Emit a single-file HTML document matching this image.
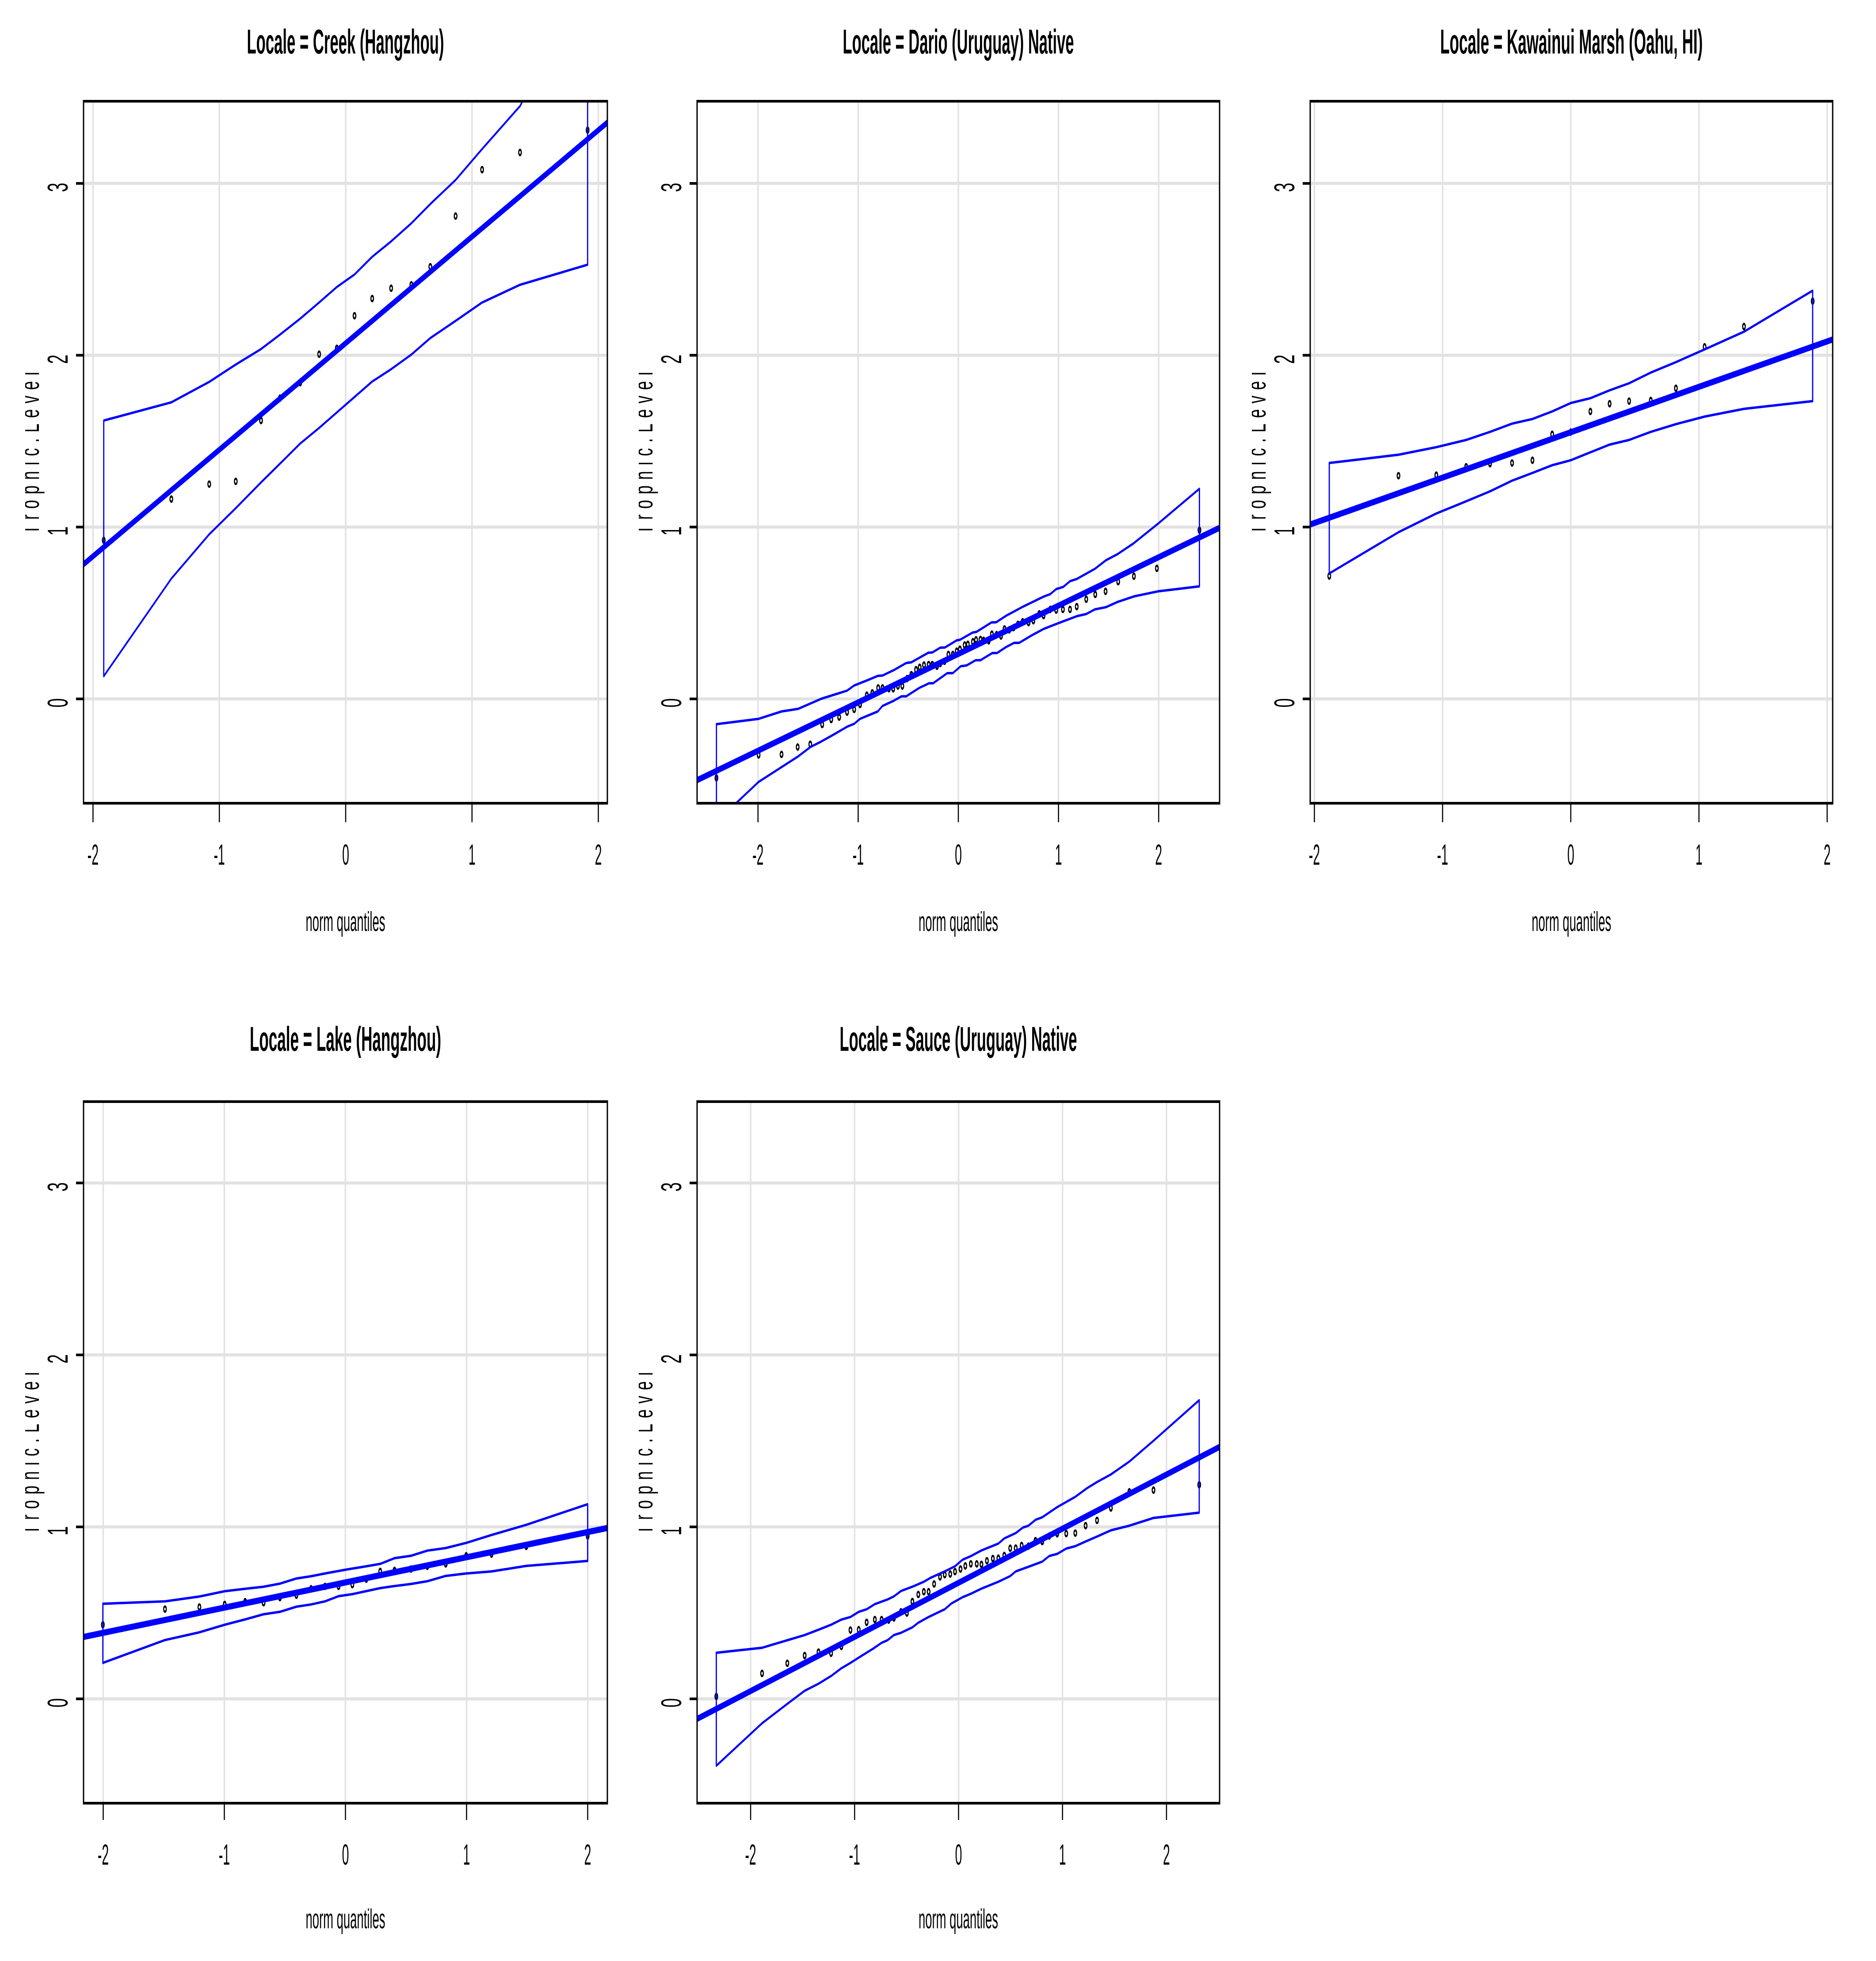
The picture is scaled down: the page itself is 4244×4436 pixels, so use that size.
<!DOCTYPE html>
<html lang="en">
<head>
<meta charset="utf-8">
<title>Trophic Level QQ plots by Locale</title>
<style>
html,body{margin:0;padding:0;background:#fff;}
svg{display:block;font-family:"Liberation Sans",sans-serif;}
</style>
</head>
<body>
<svg id="chart" xmlns="http://www.w3.org/2000/svg" width="4244" height="4436" viewBox="0 0 4244 4436"><rect width="4244" height="4436" fill="#fff"></rect></svg>
<script>
// ---------- Shared tick labels ----------
const xTickValues = [-2, -1, 0, 1, 2];
const yTickValues = [0, 1, 2, 3];
const yAxisTitle = "Trophic.Level";
const xAxisTitle = "norm quantiles";

// ---------- Creek (Hangzhou) ----------
const creekTitle = "Locale = Creek (Hangzhou)";
const creekQ = [-1.915,-1.38,-1.08,-.87,-.67,-.52,-.36,-.21,-.07,.07,.21,.36,.52,.67,.87,1.08,1.38,1.915];
const creekValues = [.923,1.163,1.25,1.266,1.62,1.75,1.84,2.006,2.04,2.23,2.33,2.39,2.41,2.515,2.81,3.08,3.18,3.31];
const creekUpper = [1.62,1.726,1.845,1.946,2.036,2.12,2.213,2.307,2.397,2.47,2.573,2.663,2.768,2.88,3.02,3.2,3.45,4.2];
const creekLower = [.132,.70,.958,1.11,1.26,1.369,1.486,1.577,1.667,1.757,1.847,1.919,2.004,2.10,2.2,2.307,2.41,2.527];
const creekFit = [2.07, .62];

// ---------- Dario (Uruguay) Native ----------
const darioTitle = "Locale = Dario (Uruguay) Native";
const darioQ = [-2.415,-1.994,-1.765,-1.604,-1.478,-1.359,-1.269,-1.19,-1.111,-1.04,-.981,-.914,-.859,-.8,-.757,-.693,-.65,-.603,-.559,-.512,-.469,-.422,-.386,-.343,-.296,-.26,-.213,-.181,-.138,-.099,-.055,-.016,.016,.063,.095,.146,.177,.221,.252,.303,.335,.382,.426,.461,.508,.552,.595,.642,.701,.749,.808,.851,.918,.977,1.044,1.115,1.182,1.277,1.367,1.47,1.596,1.753,1.982,2.407];
const darioValues = [-.46,-.326,-.323,-.28,-.264,-.149,-.12,-.106,-.077,-.061,-.032,.022,.035,.064,.064,.059,.059,.075,.075,.118,.141,.17,.184,.197,.2,.2,.19,.206,.219,.259,.259,.278,.289,.314,.318,.333,.344,.346,.341,.338,.377,.374,.366,.407,.402,.415,.434,.449,.444,.455,.495,.485,.521,.517,.521,.521,.537,.58,.608,.626,.682,.714,.76,.982];
const darioUpperQ = [-2.415,-1.994,-1.765,-1.6,-1.363,-1.111,-1.04,-.902,-.804,-.757,-.646,-.52,-.469,-.299,-.26,-.181,-.134,-.016,.016,.142,.181,.268,.331,.378,.477,.646,.851,.918,.977,1.048,1.115,1.182,1.363,1.474,1.588,1.749,1.994,2.407];
const darioUpper = [-.147,-.116,-.073,-.058,.002,.048,.078,.11,.134,.136,.167,.209,.213,.269,.27,.298,.299,.341,.344,.386,.39,.422,.445,.446,.484,.537,.595,.61,.639,.652,.685,.698,.757,.807,.842,.905,1.02,1.223];
const darioLowerQ = [-2.415,-1.994,-1.6,-1.474,-1.375,-1.237,-1.111,-1.04,-.981,-.804,-.757,-.646,-.567,-.52,-.39,-.292,-.252,-.11,-.055,.024,.083,.173,.221,.339,.386,.477,.556,.607,.733,.851,.977,1.186,1.277,1.363,1.474,1.588,1.757,1.994,2.407];
const darioLower = [-.715,-.483,-.335,-.279,-.25,-.205,-.162,-.145,-.116,-.073,-.041,-.011,.015,.015,.064,.091,.091,.15,.15,.19,.195,.225,.225,.267,.267,.302,.326,.326,.37,.407,.436,.482,.494,.521,.534,.564,.597,.626,.655];
const darioFit = [.2615, .2816];

// ---------- Kawainui Marsh (Oahu, HI) ----------
const kawainuiTitle = "Locale = Kawainui Marsh (Oahu, HI)";
const kawainuiQ = [-1.884,-1.344,-1.049,-.816,-.63,-.458,-.299,-.145,0,.153,.303,.455,.624,.82,1.044,1.351,1.887];
const kawainuiValues = [.715,1.299,1.302,1.351,1.369,1.373,1.389,1.54,1.553,1.673,1.718,1.733,1.737,1.808,2.049,2.167,2.315];
const kawainuiUpper = [1.373,1.421,1.465,1.507,1.554,1.602,1.629,1.673,1.722,1.75,1.796,1.837,1.899,1.96,2.034,2.137,2.376];
const kawainuiLower = [.73,.97,1.079,1.15,1.208,1.27,1.315,1.36,1.389,1.435,1.48,1.507,1.554,1.599,1.643,1.688,1.733];
const kawainuiFit = [1.552, .2642];

// ---------- Lake (Hangzhou) ----------
const lakeTitle = "Locale = Lake (Hangzhou)";
const lakeQ = [-2.003,-1.49,-1.206,-.997,-.828,-.676,-.541,-.405,-.284,-.169,-.057,.057,.172,.287,.405,.541,.676,.828,.997,1.206,1.493,2];
const lakeValues = [.431,.522,.534,.549,.565,.559,.589,.603,.64,.654,.654,.664,.696,.741,.747,.755,.771,.785,.832,.842,.887,.947];
const lakeUpperQ = [-2.003,-1.49,-1.206,-.997,-.828,-.676,-.541,-.405,-.284,-.169,0,.172,.287,.405,.541,.676,.828,.997,1.206,1.493,2];
const lakeUpper = [.553,.567,.595,.626,.64,.652,.67,.7,.713,.729,.751,.771,.785,.818,.832,.862,.877,.907,.953,1.012,1.132];
const lakeLowerQ = [-2.003,-1.49,-1.206,-.997,-.828,-.676,-.541,-.405,-.284,-.169,-.057,.057,.287,.405,.541,.676,.828,.997,1.206,1.493,2];
const lakeLower = [.209,.342,.387,.431,.462,.492,.506,.536,.549,.567,.597,.609,.644,.656,.668,.684,.715,.729,.741,.773,.802];
const lakeFit = [.677, .1465];

// ---------- Sauce (Uruguay) Native ----------
const sauceTitle = "Locale = Sauce (Uruguay) Native";
const sauceQ = [-2.33,-1.89,-1.647,-1.48,-1.347,-1.226,-1.127,-1.04,-.96,-.884,-.805,-.74,-.672,-.622,-.554,-.497,-.444,-.387,-.334,-.288,-.235,-.178,-.133,-.08,-.034,.019,.065,.118,.175,.22,.273,.33,.383,.44,.497,.55,.607,.672,.74,.805,.873,.949,1.036,1.123,1.222,1.332,1.465,1.643,1.875,2.315];
const sauceValues = [.014,.148,.207,.252,.272,.265,.305,.4,.402,.445,.461,.461,.458,.47,.506,.499,.566,.607,.623,.623,.668,.709,.722,.726,.74,.755,.773,.785,.785,.782,.803,.816,.818,.834,.876,.877,.892,.888,.92,.915,.947,.96,.961,.964,1.007,1.038,1.11,1.204,1.214,1.245];
const sauceUpperQ = [-2.33,-1.89,-1.647,-1.48,-1.347,-1.226,-1.127,-1.04,-.96,-.884,-.805,-.683,-.622,-.554,-.436,-.334,-.266,-.133,-.034,.038,.118,.22,.383,.44,.55,.619,.672,.74,.805,.949,1.123,1.233,1.332,1.465,1.643,1.875,2.315];
const sauceUpper = [.268,.297,.341,.371,.402,.431,.461,.476,.506,.521,.551,.578,.596,.627,.654,.681,.705,.741,.771,.809,.83,.863,.903,.933,.964,.996,1.007,1.041,1.056,1.115,1.175,1.224,1.261,1.305,1.38,1.501,1.737];
const sauceLowerQ = [-2.33,-1.89,-1.647,-1.48,-1.347,-1.226,-1.127,-1.04,-.96,-.816,-.74,-.683,-.622,-.554,-.444,-.387,-.288,-.133,-.068,.038,.118,.22,.383,.497,.55,.672,.805,.873,.949,1.036,1.123,1.222,1.332,1.465,1.643,1.875,2.315];
const sauceLower = [-.389,-.142,-.029,.047,.088,.133,.178,.209,.24,.294,.326,.341,.371,.384,.416,.443,.476,.521,.555,.591,.611,.641,.681,.714,.741,.768,.798,.831,.843,.874,.888,.915,.944,.98,1.007,1.052,1.083];
const sauceFit = [.675, .3148];

// ---------- Rendering ----------
const NS = "http://www.w3.org/2000/svg";
const root = document.getElementById("chart");
const SX = 0.5; // the plotted marks are squeezed horizontally, like the reference

function mk(tag, parent, attrs) {
  const el = document.createElementNS(NS, tag);
  for (const k in attrs) el.setAttribute(k, attrs[k]);
  parent.appendChild(el);
  return el;
}

function drawPanel(p) {
  const xPos = q => (p.xZero + p.xUnit * q) / SX;
  const yPos = v => p.yZero - p.yUnit * v;
  const L = p.left / SX, R = p.right / SX, T = p.top, B = p.bottom;
  const cx = (p.left + p.right) / 2;

  const panel = mk("g", root, {});
  
  

  const clip = mk("clipPath", panel, { id: "clip-" + p.id });
  mk("rect", clip, { x: L, y: T, width: R - L, height: B - T });

  const squeezed = mk("g", panel, { transform: "scale(" + SX + ",1)" });
  const plot = mk("g", squeezed, { "clip-path": "url(#clip-" + p.id + ")" });
  
  

  xTickValues.forEach(t => {
    const g = mk("line", plot, { x1: xPos(t), x2: xPos(t), y1: T, y2: B, stroke: "#e2e2e2", "stroke-width": 7 });
    
    
  });
  yTickValues.forEach(t => {
    const g = mk("line", plot, { x1: L, x2: R, y1: yPos(t), y2: yPos(t), stroke: "#e2e2e2", "stroke-width": 7 });
    
    
  });

  p.q.forEach((q, i) => {
    const c = mk("circle", plot, { cx: xPos(q), cy: yPos(p.values[i]), r: 6, fill: "none", stroke: "#000", "stroke-width": 5 });
    
    
  });

  const ql = (p.left - p.xZero) / p.xUnit, qr = (p.right - p.xZero) / p.xUnit;
  const fit = mk("line", plot, {
    x1: xPos(ql), y1: yPos(p.fit[0] + p.fit[1] * ql),
    x2: xPos(qr), y2: yPos(p.fit[0] + p.fit[1] * qr),
    stroke: "#0000ff", "stroke-width": 14
  });
  
  

  const pts = [];
  p.upperQ.forEach((q, i) => pts.push(xPos(q) + "," + yPos(p.upper[i])));
  for (let i = p.lowerQ.length - 1; i >= 0; i--) pts.push(xPos(p.lowerQ[i]) + "," + yPos(p.lower[i]));
  const band = mk("polygon", plot, { points: pts.join(" "), fill: "none", stroke: "#0000ff", "stroke-width": 5.5, "stroke-linejoin": "round" });
  
  

  const frame = mk("rect", squeezed, { x: L, y: T, width: R - L, height: B - T, fill: "none", stroke: "#000", "stroke-width": 6 });
  
  

  xTickValues.forEach(t => {
    const tick = mk("line", squeezed, { x1: xPos(t), x2: xPos(t), y1: B, y2: B + p.tickLen, stroke: "#000", "stroke-width": 5 });
    
    
    const lab = mk("text", panel, {
      transform: "translate(" + (p.xZero + p.xUnit * t) + "," + (B + 139) + ") scale(.43,1)",
      "text-anchor": "middle", "font-size": 66, fill: "#000"
    });
    lab.textContent = String(t);
    
    
  });

  yTickValues.forEach(t => {
    const tick = mk("line", squeezed, { x1: L - 34, x2: L, y1: yPos(t), y2: yPos(t), stroke: "#000", "stroke-width": 6 });
    
    
    const lab = mk("text", panel, {
      transform: "translate(" + (p.left - 36) + "," + (yPos(t) + 9) + ") rotate(-90) scale(.58,1)",
      "text-anchor": "middle", "font-size": 65, fill: "#000"
    });
    lab.textContent = String(t);
    
    
  });

  const labelClip = mk("clipPath", panel, { id: "ylabel-clip-" + p.id });
  mk("rect", labelClip, { x: p.left - 132, y: T, width: 60, height: B - T });
  const yWrap = mk("g", panel, { "clip-path": "url(#ylabel-clip-" + p.id + ")" });
  const yLab = mk("text", yWrap, {
    transform: "translate(" + (p.left - 101) + "," + ((T + B) / 2 + 186) + ") rotate(-90) scale(.6,1)",
    "text-anchor": "start", "font-size": 60, fill: "#000", "letter-spacing": "21.25"
  });
  yLab.textContent = yAxisTitle;
  
  

  const title = mk("text", panel, {
    x: cx, y: p.titleY, "text-anchor": "middle", "font-size": 78, "font-weight": "bold",
    fill: "#000", textLength: p.titleWidth, lengthAdjust: "spacingAndGlyphs"
  });
  title.textContent = p.title;
  
  

  const xLab = mk("text", panel, {
    x: cx, y: p.xLabelY, "text-anchor": "middle", "font-size": 62, fill: "#000",
    textLength: 180, lengthAdjust: "spacingAndGlyphs"
  });
  xLab.textContent = xAxisTitle;
  
  
}

const row1 = { top: 229, bottom: 1817, yZero: 1581, yUnit: 388.7, titleY: 121, xLabelY: 2106, tickLen: 43 };
const row2 = { top: 2492, bottom: 4079, yZero: 3843, yUnit: 389, titleY: 2377, xLabelY: 4362, tickLen: 38 };

drawPanel(Object.assign({}, row1, { id: "creek", title: creekTitle, titleWidth: 446, left: 189, right: 1374, xZero: 782, xUnit: 285.8,
  q: creekQ, values: creekValues, upperQ: creekQ, upper: creekUpper, lowerQ: creekQ, lower: creekLower, fit: creekFit }));
drawPanel(Object.assign({}, row1, { id: "dario", title: darioTitle, titleWidth: 523, left: 1577, right: 2759, xZero: 2168, xUnit: 226.6,
  q: darioQ, values: darioValues, upperQ: darioUpperQ, upper: darioUpper, lowerQ: darioLowerQ, lower: darioLower, fit: darioFit }));
drawPanel(Object.assign({}, row1, { id: "kawainui", title: kawainuiTitle, titleWidth: 594, left: 2964, right: 4146, xZero: 3553.5, xUnit: 290,
  q: kawainuiQ, values: kawainuiValues, upperQ: kawainuiQ, upper: kawainuiUpper, lowerQ: kawainuiQ, lower: kawainuiLower, fit: kawainuiFit }));
drawPanel(Object.assign({}, row2, { id: "lake", title: lakeTitle, titleWidth: 433, left: 189, right: 1374, xZero: 781.5, xUnit: 274,
  q: lakeQ, values: lakeValues, upperQ: lakeUpperQ, upper: lakeUpper, lowerQ: lakeLowerQ, lower: lakeLower, fit: lakeFit }));
drawPanel(Object.assign({}, row2, { id: "sauce", title: sauceTitle, titleWidth: 537, left: 1577, right: 2759, xZero: 2168.5, xUnit: 235.2,
  q: sauceQ, values: sauceValues, upperQ: sauceUpperQ, upper: sauceUpper, lowerQ: sauceLowerQ, lower: sauceLower, fit: sauceFit }));
</script>
</body>
</html>
